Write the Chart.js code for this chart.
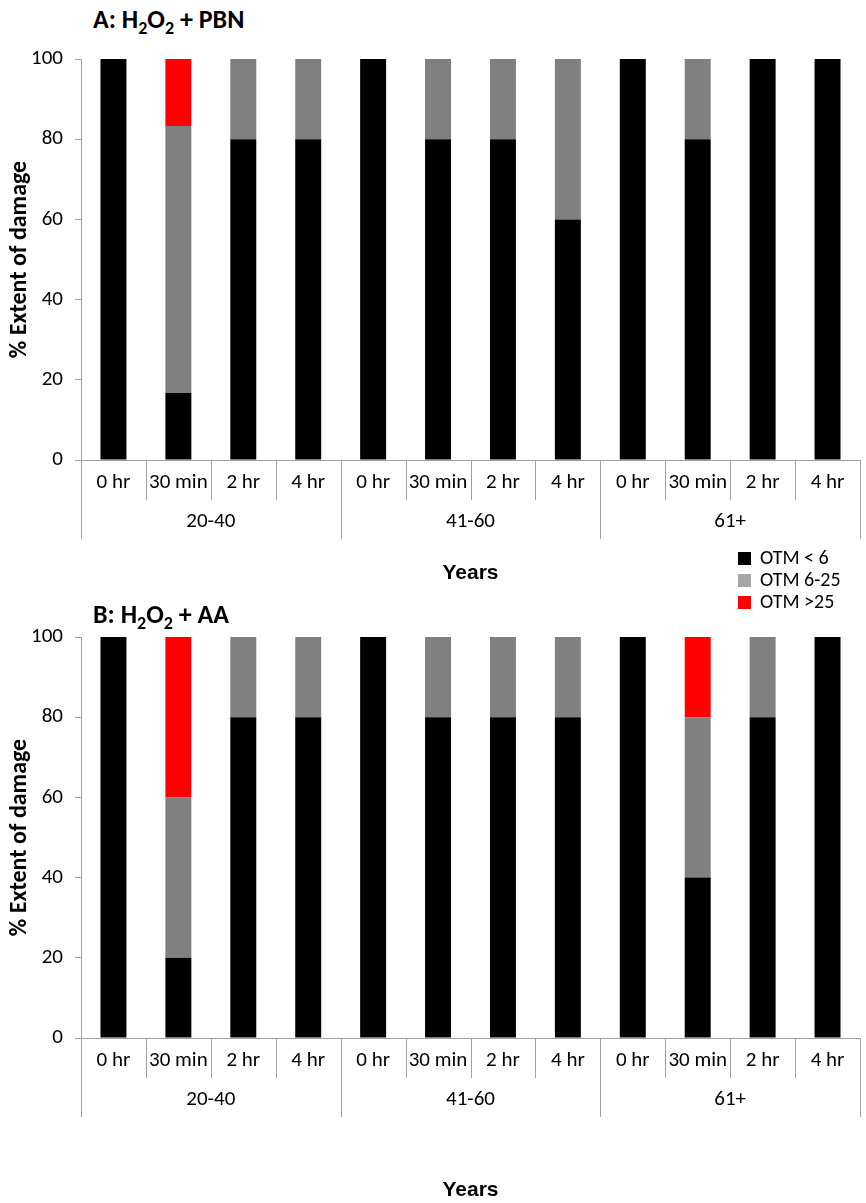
<!DOCTYPE html>
<html>
<head>
<meta charset="utf-8">
<script src="https://cdn.jsdelivr.net/npm/chart.js@4.4.1/dist/chart.umd.min.js"></script>
<style>
  body { margin: 0; background: #fff; }
  #page { position: relative; width: 866px; height: 1203px; font-family: Carlito, Lato, sans-serif; }
  canvas { position: absolute; left: 0; }
  .title { position: absolute; left: 93px; font-weight: bold; font-size: 26px; color: #000; }
  .title sub { font-size: 18px; }
  #legend { position: absolute; left: 738px; top: 546px; font-size: 20px; }
  .item { height: 22px; line-height: 22px; white-space: nowrap; }
  .box { display: inline-block; width: 13px; height: 13px; margin-right: 9px; vertical-align: -1px; }
</style>
</head>
<body>
<div id="page">
  <div class="title" style="top:3px">A: H<sub>2</sub>O<sub>2</sub> + PBN</div>
  <canvas id="chartA" width="866" height="600" style="top:0"></canvas>
  <div id="legend"></div>
  <div class="title" style="top:598px">B: H<sub>2</sub>O<sub>2</sub> + AA</div>
  <canvas id="chartB" width="866" height="625" style="top:578px"></canvas>
</div>
<script>
// categories
const timePoints = ["0 hr", "30 min", "2 hr", "4 hr", "0 hr", "30 min", "2 hr", "4 hr", "0 hr", "30 min", "2 hr", "4 hr"];
const ageGroups = ["20-40", "41-60", "61+"];
const yTicks = [0, 20, 40, 60, 80, 100];
const seriesNames = ["OTM < 6", "OTM 6-25", "OTM >25"];
const seriesColors = ["#000000", "#808080", "#ff0000"];
const legendColors = ["#000000", "#a6a6a6", "#ff0000"];

// A: H2O2 + PBN
const pbnLow = [100, 16.7, 80, 80, 100, 80, 80, 60, 100, 80, 100, 100];
const pbnMid = [0, 66.6, 20, 20, 0, 20, 20, 40, 0, 20, 0, 0];
const pbnHigh = [0, 16.7, 0, 0, 0, 0, 0, 0, 0, 0, 0, 0];

// B: H2O2 + AA
const aaLow = [100, 20, 80, 80, 100, 80, 80, 80, 100, 40, 80, 100];
const aaMid = [0, 40, 20, 20, 0, 20, 20, 20, 0, 40, 20, 0];
const aaHigh = [0, 40, 0, 0, 0, 0, 0, 0, 0, 20, 0, 0];

const axisColor = "#a0a0a0";
const labelFont = "21px Carlito, Lato, sans-serif";

// draws the two level category axis under the bars
const groupedAxis = {
  id: "groupedAxis",
  afterDraw(chart, args, opts) {
    const { ctx, chartArea: a, scales: { x } } = chart;
    const n = timePoints.length;
    const per = n / ageGroups.length;
    ctx.save();
    ctx.strokeStyle = axisColor;
    ctx.lineWidth = 1;
    ctx.beginPath();
    ctx.moveTo(a.left, a.bottom + 0.5);
    ctx.lineTo(a.right, a.bottom + 0.5);
    for (let i = 0; i <= n; i++) {
      let bx;
      if (i === 0) bx = a.left;
      else if (i === n) bx = a.right;
      else bx = (x.getPixelForValue(i - 1) + x.getPixelForValue(i)) / 2;
      bx = Math.round(bx) + 0.5;
      const len = i % per === 0 ? 79 : 40;
      ctx.moveTo(bx, a.bottom);
      ctx.lineTo(bx, a.bottom + len);
    }
    ctx.stroke();

    ctx.fillStyle = "#000";
    ctx.font = labelFont;
    ctx.textAlign = "center";
    ctx.textBaseline = "middle";
    timePoints.forEach((t, i) => {
      ctx.fillText(t, x.getPixelForValue(i), a.bottom + 23);
    });
    ageGroups.forEach((g, k) => {
      const cx = (x.getPixelForValue(k * per) + x.getPixelForValue(k * per + per - 1)) / 2;
      ctx.fillText(g, cx, a.bottom + 62);
    });
    ctx.font = "bold 21px 'Liberation Sans', Arial, sans-serif";
    ctx.fillText("Years", (a.left + a.right) / 2, a.bottom + opts.yearsOffset);
    ctx.restore();
  }
};

function makeChart(id, low, mid, high, bottomPad, yearsOffset) {
  const values = [low, mid, high];
  return new Chart(document.getElementById(id), {
    type: "bar",
    data: {
      labels: timePoints,
      datasets: values.map((v, i) => ({
        label: seriesNames[i],
        data: v,
        backgroundColor: seriesColors[i],
        borderWidth: 0,
        barPercentage: 0.4,
        categoryPercentage: 1
      }))
    },
    options: {
      responsive: false,
      animation: false,
      layout: { padding: { top: 59, right: 6, bottom: bottomPad, left: 0 } },
      scales: {
        x: { stacked: true, display: false },
        y: {
          stacked: true,
          min: 0,
          max: 100,
          afterBuildTicks: (s) => { s.ticks = yTicks.map((v) => ({ value: v })); },
          afterFit: (s) => { s.width = 81; },
          border: { display: true, color: axisColor },
          grid: { drawOnChartArea: false, drawTicks: true, tickLength: 6, color: axisColor },
          ticks: { color: "#000", font: { family: "Carlito, Lato, sans-serif", size: 21 }, padding: 12 },
          title: {
            display: true,
            text: "% Extent of damage",
            color: "#000",
            font: { family: "Carlito, Lato, sans-serif", size: 24, weight: "bold" },
            padding: { top: 6, bottom: 0 }
          }
        }
      },
      plugins: {
        legend: { display: false },
        tooltip: { enabled: false },
        groupedAxis: { yearsOffset: yearsOffset }
      }
    },
    plugins: [groupedAxis]
  });
}

makeChart("chartA", pbnLow, pbnMid, pbnHigh, 140, 113);
makeChart("chartB", aaLow, aaMid, aaHigh, 165, 152);

// legend
const legend = document.getElementById("legend");
legend.innerHTML = seriesNames.map((s, i) =>
  `<div class="item"><span class="box" style="background:${legendColors[i]}"></span>${s}</div>`
).join("");
</script>
</body>
</html>
